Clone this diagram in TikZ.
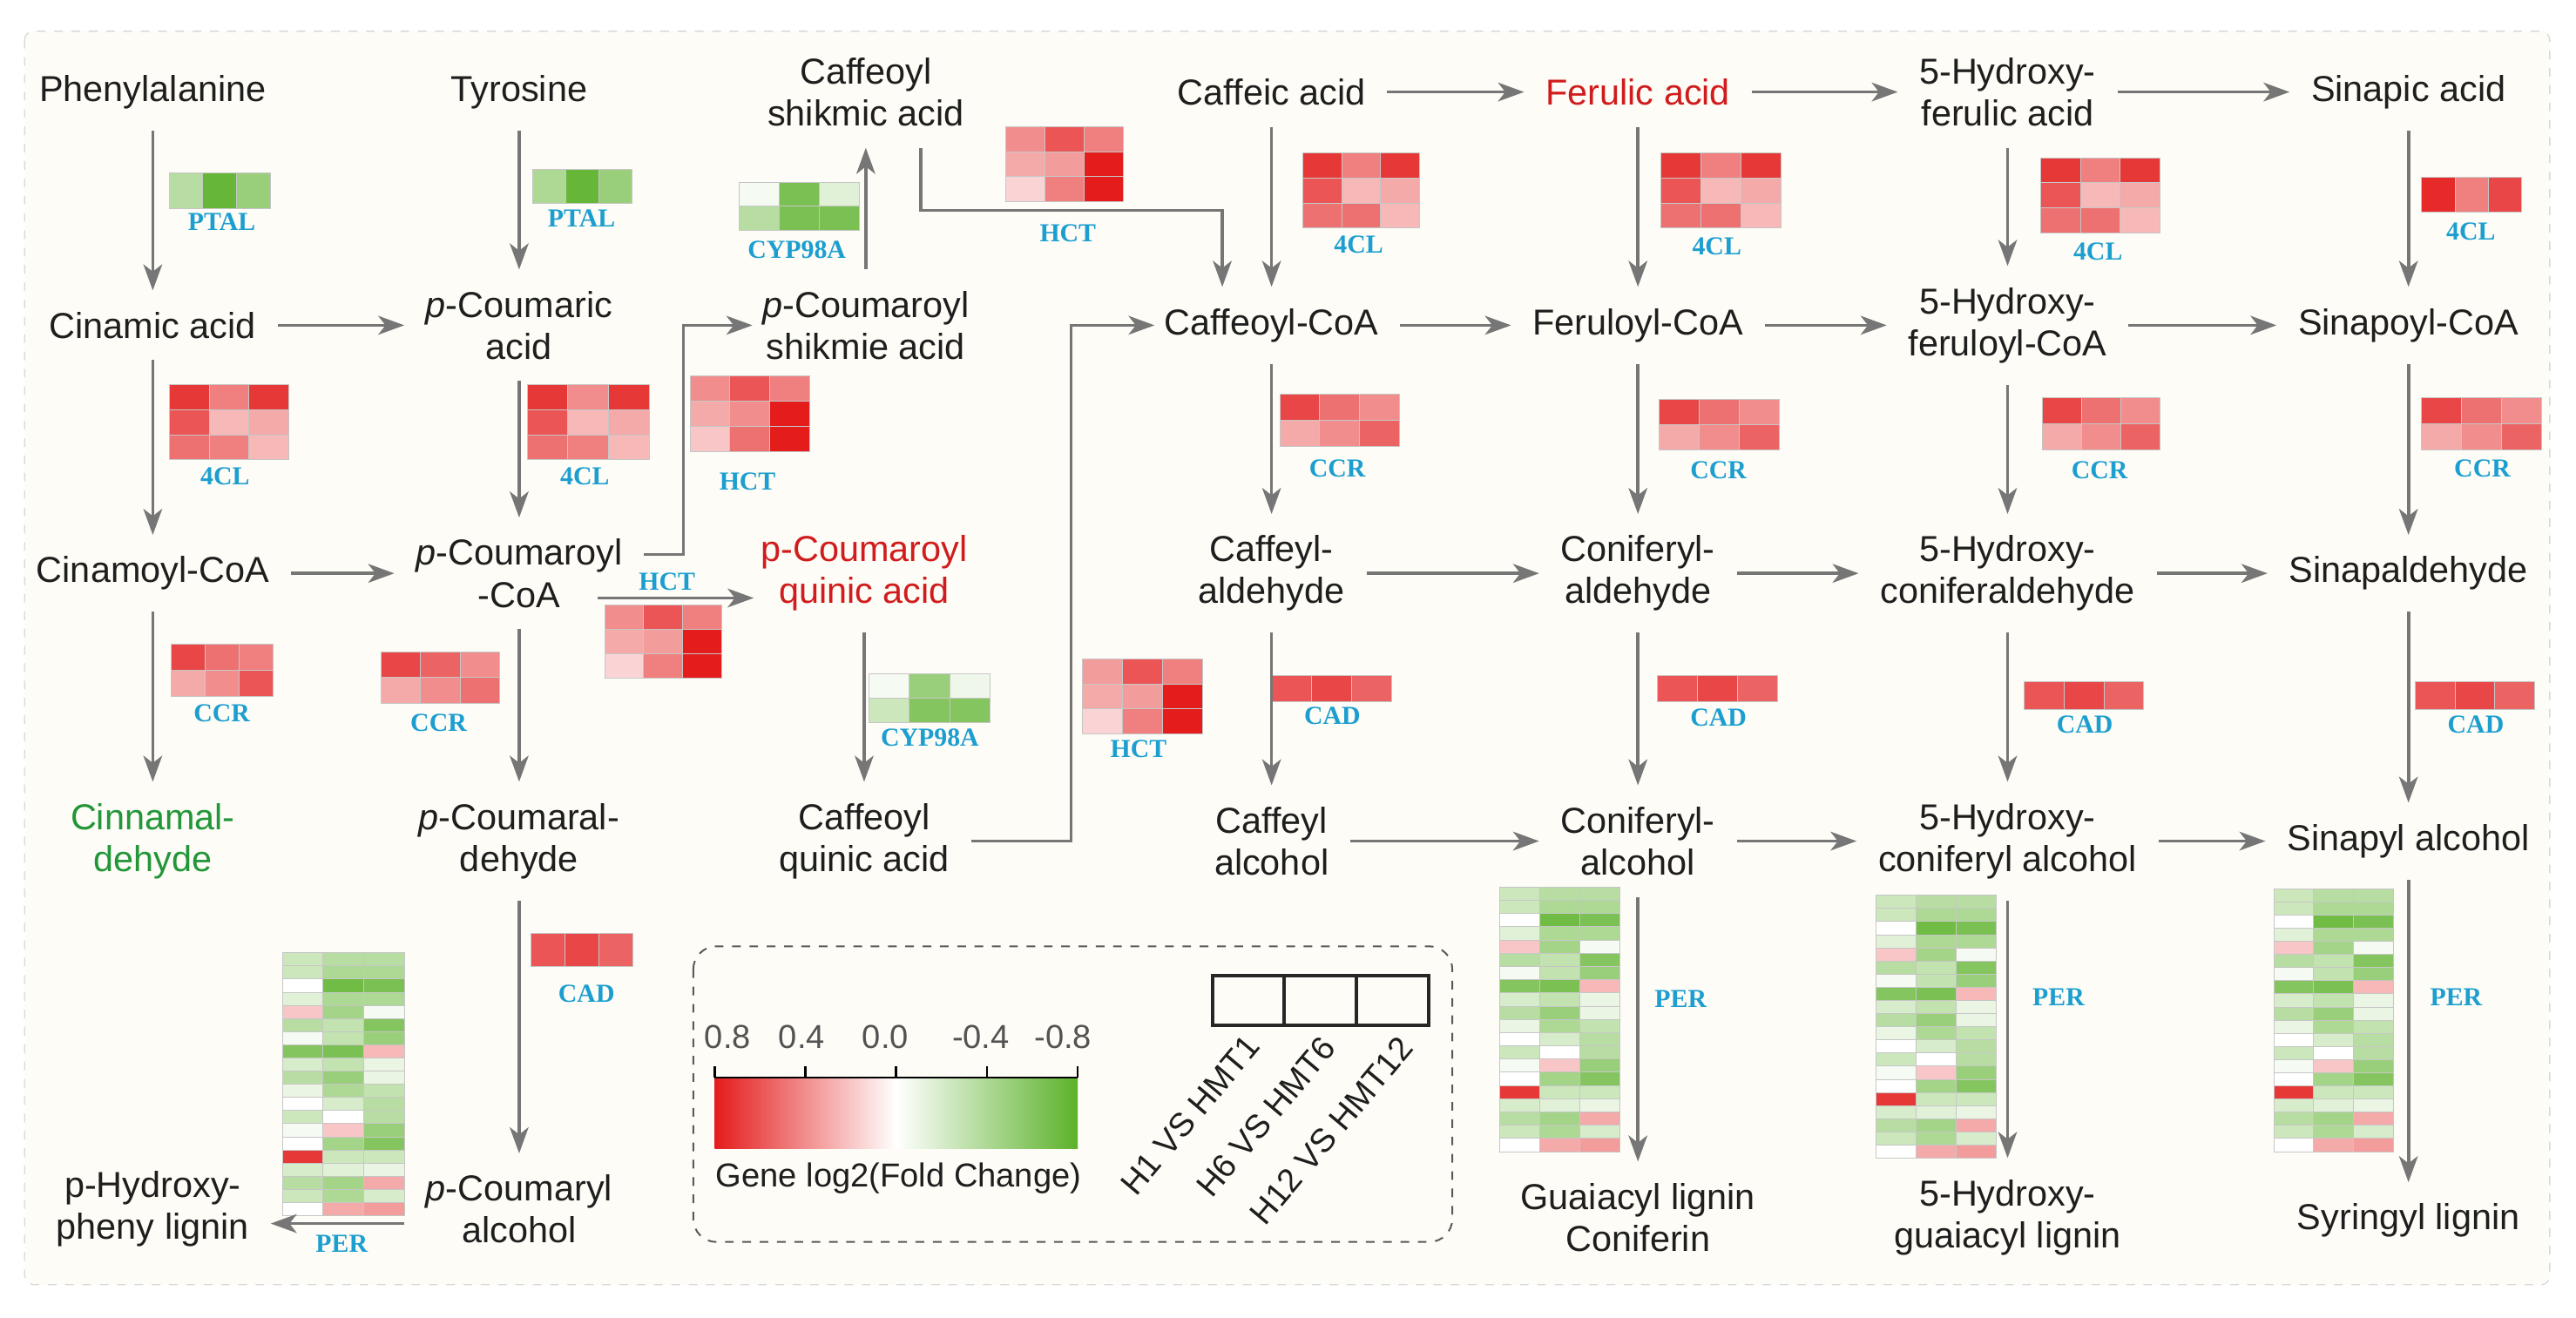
\documentclass[tikz,border=0pt]{standalone}
\usepackage{fontspec}
\setmainfont{Liberation Sans}
\newfontfamily\enzfont{Liberation Serif}
\usetikzlibrary{arrows.meta}

\definecolor{cream}{RGB}{253,252,246}
\definecolor{arrgray}{RGB}{118,118,118}
\definecolor{hmred}{RGB}{228,28,28}
\definecolor{hmgreen}{RGB}{92,178,42}
\definecolor{enzblue}{RGB}{28,158,208}
\definecolor{txt}{RGB}{30,30,30}
\definecolor{redtxt}{RGB}{208,28,28}
\definecolor{grntxt}{RGB}{34,150,56}

\tikzset{
  cpd/.style={align=center, text=txt, inner sep=1.5pt, outer sep=6pt,
    font=\fontsize{12.5}{14.5}\selectfont},
  enz/.style={text=enzblue, inner sep=0pt, font=\enzfont\bfseries\fontsize{9}{10}\selectfont},
  arr/.style={draw=arrgray, line width=1.1pt, -{Stealth[length=9pt,width=6.5pt,inset=2.5pt]}},
  hmcell/.style={draw=gray!45, line width=0.3pt},
  legtxt/.style={inner sep=0pt, font=\fontsize{11.5}{13}\selectfont},
}

\newcommand{\hmap}[5]{%
  \edef\hmrows{#5}%
  \foreach \rowvals [count=\ri from 0] in \hmrows {
    \foreach \v [count=\ci from 0] in \rowvals {
      \pgfmathsetmacro{\pct}{min(100,abs(\v)*12.5)}
      \ifdim \v pt<0pt \def\hue{hmgreen}\else\def\hue{hmred}\fi
      \filldraw[hmcell, fill=\hue!\pct!white] (#1+\ci*#3, #2+\ri*#4) rectangle ++(#3,#4);
    }
  }
}

\newcommand{\perdata}{{-2.5,-3.5,-3.5},{-2.5,-4,-4},{0,-7,-6.5},{-1.5,-4,-4},{2,-4.5,-0.5},
  {-3.5,-3,-6},{-0.5,-3,-5},{-6,-6.5,2.5},{-2,-3,-1},{-3.5,-5,-1},
  {-1,-4,-3},{0,-2,-3.5},{-2.5,0,-3.5},{-0.5,2,-5},{0,-4.5,-6},
  {7,-2.5,-2.5},{-2,-1.5,-1},{-3.5,-4.5,3},{-2.5,-4,-2},{0,3,3.5}}

\begin{document}
\begin{tikzpicture}[x=0.02cm, y=-0.02cm]
  \useasboundingbox (0,0) rectangle (1568,802);
  \fill[white] (0,0) rectangle (1568,802);
  \draw[gray!30, dashed, fill=cream, rounded corners=3pt] (15,19) rectangle (1552,782);

  \node[cpd] (phe) at (93,56) {Phenylalanine};
  \node[cpd] (tyr) at (316,56) {Tyrosine};
  \node[cpd] (cshik) at (527,56) {Caffeoyl\\shikmic acid};
  \node[cpd] (caff) at (774,56) {Caffeic acid};
  \node[cpd, text=redtxt] (fer) at (997,56) {Ferulic acid};
  \node[cpd] (hfer) at (1222,56) {5-Hydroxy-\\ferulic acid};
  \node[cpd] (sinac) at (1466,56) {Sinapic acid};

  \node[cpd] (cin) at (93,198) {Cinamic acid};
  \node[cpd] (pcoum) at (316,198) {\textit{p}-Coumaric\\acid};
  \node[cpd] (pcshik) at (527,198) {\textit{p}-Coumaroyl\\shikmie acid};
  \node[cpd] (caffco) at (774,198) {Caffeoyl-CoA};
  \node[cpd] (ferco) at (997,198) {Feruloyl-CoA};
  \node[cpd] (hferco) at (1222,198) {5-Hydroxy-\\feruloyl-CoA};
  \node[cpd] (sinco) at (1466,198) {Sinapoyl-CoA};

  \node[cpd] (cinco) at (93,349) {Cinamoyl-CoA};
  \node[cpd] (pcco) at (316,349) {\textit{p}-Coumaroyl\\-CoA};
  \node[cpd, text=redtxt] (pcquin) at (526,349) {p-Coumaroyl\\quinic acid};
  \node[cpd] (caffald) at (774,349) {Caffeyl-\\aldehyde};
  \node[cpd] (conald) at (997,349) {Coniferyl-\\aldehyde};
  \node[cpd] (hconald) at (1222,349) {5-Hydroxy-\\coniferaldehyde};
  \node[cpd] (sinald) at (1466,349) {Sinapaldehyde};

  \node[cpd, text=grntxt] (cinald) at (93,512) {Cinnamal-\\dehyde};
  \node[cpd] (pcald) at (316,512) {\textit{p}-Coumaral-\\dehyde};
  \node[cpd] (cquin) at (526,512) {Caffeoyl\\quinic acid};
  \node[cpd] (caffalc) at (774,512) {Caffeyl\\alcohol};
  \node[cpd] (conalc) at (997,512) {Coniferyl-\\alcohol};
  \node[cpd] (hconalc) at (1222,512) {5-Hydroxy-\\coniferyl alcohol};
  \node[cpd] (sinalc) at (1466,512) {Sinapyl alcohol};

  \node[cpd] (phl) at (93,736) {p-Hydroxy-\\pheny lignin};
  \node[cpd] (pcalc) at (316,736) {\textit{p}-Coumaryl\\alcohol};
  \node[cpd] (guai) at (997,741) {Guaiacyl lignin\\Coniferin};
  \node[cpd] (hguai) at (1222,741) {5-Hydroxy-\\guaiacyl lignin};
  \node[cpd] (syr) at (1466,743) {Syringyl lignin};

  \hmap{103}{105}{20.5}{22}{{-3.5,-7.5,-5}}
  \hmap{324}{103}{20.3}{21}{{-4,-7.5,-5}}
  \hmap{450}{111}{24.3}{14.5}{{-0.5,-6.5,-1.5},{-3.5,-6.5,-6.5}}
  \hmap{103}{234}{24.3}{15.3}{{7,4.5,7},{6,2.5,3},{5,4.5,2.5}}
  \hmap{321}{234}{24.7}{15.3}{{7,4,7},{6,2.5,3},{5,4.5,2.5}}
  \hmap{420}{229}{24.3}{15.3}{{4,6,4.5},{3,4,8},{2,5,8}}
  \hmap{612}{77}{24}{15.3}{{4,6,4.5},{3,3.5,8},{1.5,4.5,8}}
  \hmap{793}{93}{23.7}{15.3}{{7,4.5,7},{6,2.5,3},{5,5,2.5}}
  \hmap{1011}{93}{24.3}{15.3}{{7,4.5,7},{6,2.5,3},{5,5,2.5}}
  \hmap{1242}{96}{24.3}{15.2}{{7,4.5,7},{6,2.5,3},{5,5,2.5}}
  \hmap{1474}{108}{20.3}{21}{{7.5,4.5,6.5}}
  \hmap{104}{392}{20.7}{16}{{6.5,5,4.5},{3,4,6}}
  \hmap{232}{397}{24}{15.5}{{6.5,5.5,4},{3,4,5}}
  \hmap{779}{240}{24.3}{16}{{6.5,5,4},{3,4,5.5}}
  \hmap{1010}{243}{24.3}{15.5}{{6.5,5,4},{3,4,5.5}}
  \hmap{1243}{242}{24}{16}{{6.5,5,4},{3,4,5.5}}
  \hmap{1474}{242}{24.3}{16}{{6.5,5,4},{3,4,5.5}}
  \hmap{368}{368}{23.7}{15}{{4,6,4.5},{3,3.5,8},{1.5,4.5,8}}
  \hmap{529}{410}{24.5}{15}{{-0.5,-5,-0.8},{-2.5,-6,-6}}
  \hmap{659}{401}{24.3}{15.3}{{3.5,6,4.5},{3,3.5,8},{1.5,4.5,8}}
  \hmap{323}{568}{20.7}{20.5}{{6,6.5,5.5}}
  \hmap{774}{411}{24.3}{16}{{6,6.5,5.5}}
  \hmap{1009}{411}{24.3}{16}{{6,6.5,5.5}}
  \hmap{1232}{415}{24.3}{17}{{6,6.5,5.5}}
  \hmap{1470}{415}{24.3}{17}{{6,6.5,5.5}}
  \hmap{172}{580}{24.7}{8}{\perdata}
  \hmap{913}{540}{24.3}{8.05}{\perdata}
  \hmap{1142}{545}{24.3}{8}{\perdata}
  \hmap{1384}{541}{24.3}{8}{\perdata}

  \node[enz] (ptala) at (135,135) {PTAL};
  \node[enz] (ptalb) at (354,133) {PTAL};
  \node[enz] (cypa) at (485,152) {CYP98A};
  \node[enz] (fcla) at (137,290) {4CL};
  \node[enz] (fclb) at (356,290) {4CL};
  \node[enz] (hcta) at (455,293) {HCT};
  \node[enz] (hctb) at (650,142) {HCT};
  \node[enz] (fclc) at (827,149) {4CL};
  \node[enz] (fcld) at (1045,150) {4CL};
  \node[enz] (fcle) at (1277,153) {4CL};
  \node[enz] (fclf) at (1504,141) {4CL};
  \node[enz] (ccra) at (135,434) {CCR};
  \node[enz] (ccrb) at (267,440) {CCR};
  \node[enz] (hctc) at (406,354) {HCT};
  \node[enz] (cypb) at (566,449) {CYP98A};
  \node[enz] (hctd) at (693,456) {HCT};
  \node[enz] (ccrc) at (814,285) {CCR};
  \node[enz] (ccrd) at (1046,286) {CCR};
  \node[enz] (ccre) at (1278,286) {CCR};
  \node[enz] (ccrf) at (1511,285) {CCR};
  \node[enz] (cada) at (357,605) {CAD};
  \node[enz] (cadb) at (811,436) {CAD};
  \node[enz] (cadc) at (1046,437) {CAD};
  \node[enz] (cadd) at (1269,441) {CAD};
  \node[enz] (cade) at (1507,441) {CAD};
  \node[enz] (pera) at (208,757) {PER};
  \node[enz] (perb) at (1023,608) {PER};
  \node[enz] (perc) at (1253,607) {PER};
  \node[enz] (perd) at (1495,607) {PER};

  \draw[arr] (phe) -- (cin);
  \draw[arr] (tyr) -- (pcoum);
  \draw[arr] (cin) -- (pcoum);
  \draw[arr] (cin) -- (cinco);
  \draw[arr] (pcoum) -- (pcco);
  \draw[arr] (cinco) -- (pcco);
  \draw[arr] (cinco) -- (cinald);
  \draw[arr] (pcco) -- (pcald);
  \draw[arr] (pcald) -- (pcalc);
  \draw[arr] ([yshift=-5pt]pcalc.west) -- ([yshift=-5pt]phl.east);
  \draw[arr] (pcshik) -- (cshik);
  \draw[arr] (pcquin) -- (cquin);

  \coordinate (hctup) at (416,198);
  \draw[arr, shorten >=-4pt] ([yshift=6.5pt]pcco.east) -| (hctup) -- (pcshik.west);
  \coordinate (hctin) at (364,364);
  \draw[arr, shorten >=-5pt] (hctin) -- (hctin -| pcquin.west);
  \coordinate (hctbend) at (744,128);
  \draw[arr] ([xshift=19pt]cshik.south) |- (hctbend) -- (hctbend |- caffco.north);
  \coordinate (quinbend) at (652,198);
  \draw[arr, shorten >=-4pt] (cquin.east) -| (quinbend) -- (caffco.west);

  \draw[arr] (caff) -- (fer);
  \draw[arr] (fer) -- (hfer);
  \draw[arr] (hfer) -- (sinac);
  \draw[arr] (caff) -- (caffco);
  \draw[arr] (fer) -- (ferco);
  \draw[arr] (hfer) -- (hferco);
  \draw[arr] (sinac) -- (sinco);
  \draw[arr] (caffco) -- (ferco);
  \draw[arr] (ferco) -- (hferco);
  \draw[arr] (hferco) -- (sinco);
  \draw[arr] (caffco) -- (caffald);
  \draw[arr] (ferco) -- (conald);
  \draw[arr] (hferco) -- (hconald);
  \draw[arr] (sinco) -- (sinald);
  \draw[arr] (caffald) -- (conald);
  \draw[arr] (conald) -- (hconald);
  \draw[arr] (hconald) -- (sinald);
  \draw[arr] (caffald) -- (caffalc);
  \draw[arr] (conald) -- (conalc);
  \draw[arr] (hconald) -- (hconalc);
  \draw[arr] (sinald) -- (sinalc);
  \draw[arr] (caffalc) -- (conalc);
  \draw[arr] (conalc) -- (hconalc);
  \draw[arr] (hconalc) -- (sinalc);
  \draw[arr] (conalc) -- (guai);
  \draw[arr] (hconalc) -- (hguai);
  \draw[arr] (sinalc) -- (syr);

  \draw[gray!70!black, dashed, rounded corners=8pt, line width=0.6pt] (422,576) rectangle (884,756);
  \foreach \t/\x [count=\i] in {0.8/443, 0.4/488, 0.0/539, -0.4/597, -0.8/647}
    \node[legtxt, text=gray!65!black] (tick\i) at (\x,631) {\t};
  \shade[left color=hmred, right color=hmgreen, middle color=white] (435,656) rectangle (656,699);
  \draw[black, line width=0.8pt] (435,656) -- (656,656);
  \foreach \x in {435,490.25,545.5,600.75,656}
    \draw[black, line width=0.8pt] (\x,656) -- (\x,649);
  \node[legtxt, text=txt] (fclabel) at (547,717) {Gene log2(Fold Change)};
  \draw[black!85, line width=1.2pt] (738,594) rectangle (869.6,624);
  \draw[black!85, line width=1.2pt] (781.6,594) -- (781.6,624);
  \draw[black!85, line width=1.2pt] (825.6,594) -- (825.6,624);
  \node[legtxt, text=txt, rotate=50, anchor=east] (cmpa) at (763,633) {H1 VS HMT1};
  \node[legtxt, text=txt, rotate=50, anchor=east] (cmpb) at (809,634) {H6 VS HMT6};
  \node[legtxt, text=txt, rotate=50, anchor=east] (cmpc) at (856,634) {H12 VS HMT12};
\end{tikzpicture}
\end{document}
